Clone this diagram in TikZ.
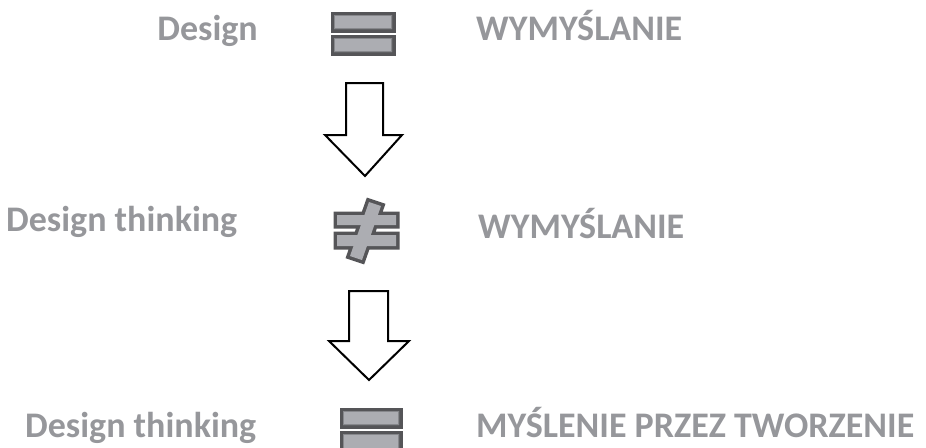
\documentclass[tikz,border=0pt]{standalone}
\usepackage{fontspec}
\setmainfont{Carlito}
\definecolor{txtgray}{RGB}{150,151,155}
\definecolor{bardark}{RGB}{85,85,88}
\definecolor{barfill}{RGB}{172,173,178}
\definecolor{barinner}{RGB}{135,136,140}
\begin{document}
\begin{tikzpicture}[x=1pt,y=-1pt,
  lbl/.style={inner sep=0pt,text=txtgray,font=\fontsize{36}{40}\selectfont\bfseries},
  barstroke/.style={draw=bardark,line width=7pt,line join=miter},
  barfillst/.style={fill=barfill},
  barline/.style={draw=barinner,line width=0.8pt},
  bigarrow/.style={draw=black,fill=white,line width=2pt,line join=miter}]
\useasboundingbox (0,0) rectangle (926,447);
% Row 1
\node[lbl,anchor=base east] (d1) at (258,40) {Design};
\node[lbl,anchor=base west] (w1) at (476,40) {WYMYŚLANIE};
\draw[barstroke] (334,15) rectangle (392,29) (334,38) rectangle (392,52);
\fill[barfillst] (334,15) rectangle (392,29) (334,38) rectangle (392,52);
\draw[barline] (334.5,15.5) rectangle (391.5,28.5) (334.5,38.5) rectangle (391.5,51.5);
% Arrow 1
\draw[bigarrow] (346,83) -- (383,83) -- (383,135) -- (402,135) -- (365,176) -- (325,135) -- (346,135) -- cycle;
% Row 2
\node[lbl,anchor=base west] (d2) at (6,231) {Design thinking};
\node[lbl,anchor=base west] (w2) at (478,238) {WYMYŚLANIE};
\draw[barstroke] (337,215) rectangle (396,225) (337,235) rectangle (396,246)
  (369,202) -- (381,206) -- (362,260) -- (350,256) -- cycle;
\fill[barfillst] (337,215) rectangle (396,225) (337,235) rectangle (396,246);
\fill[barfillst] (369,202) -- (381,206) -- (362,260) -- (350,256) -- cycle;
% Arrow 2
\draw[bigarrow] (349,291) -- (388,291) -- (388,341) -- (409,341) -- (369,380) -- (329,341) -- (349,341) -- cycle;
% Row 3
\node[lbl,anchor=base west] (d3) at (25,437) {Design thinking};
\node[lbl,anchor=base west] (w3) at (476,437) {MYŚLENIE PRZEZ TWORZENIE};
\draw[barstroke] (343,411) rectangle (399,425) (343,434) rectangle (399,450);
\fill[barfillst] (343,411) rectangle (399,425) (343,434) rectangle (399,450);
\draw[barline] (343.5,411.5) rectangle (398.5,424.5) (343.5,434.5) rectangle (398.5,449.5);
\end{tikzpicture}
\end{document}
